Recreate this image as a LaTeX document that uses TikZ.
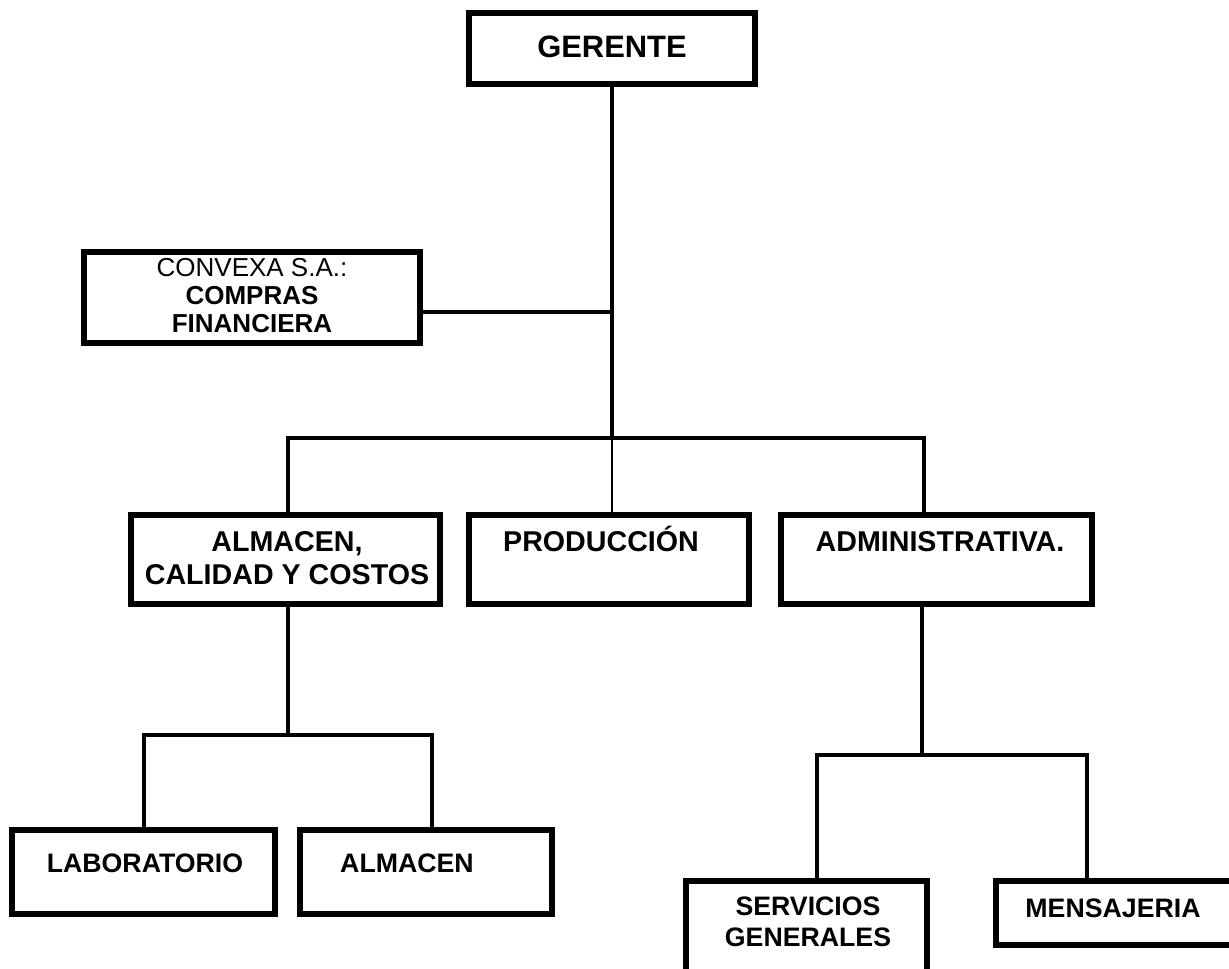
\documentclass[tikz,border=0pt]{standalone}
\usepackage{fontspec}
\setmainfont{Liberation Sans}
\usetikzlibrary{fit}
\tikzset{
  box/.style={draw=black, line width=3.8pt, inner sep=0pt, fill=white},
  conn/.style={draw=black, line width=2.3pt},
  thin/.style={draw=black, line width=0.9pt},
  txtA/.style={inner sep=0pt, font=\fontsize{16.3pt}{18.8pt}\selectfont\bfseries, align=center},
  txtB/.style={inner sep=0pt, font=\fontsize{15.2pt}{18.2pt}\selectfont\bfseries, align=center},
  txtC/.style={inner sep=0pt, font=\fontsize{14.8pt}{15.9pt}\selectfont\bfseries, align=center},
  big/.style={inner sep=0pt, font=\fontsize{17.6pt}{20pt}\selectfont\bfseries, align=center},
}
\begin{document}
\begin{tikzpicture}[x=0.02cm, y=-0.02cm]
\useasboundingbox (0,0) rectangle (1229,969);
\clip (0,0) rectangle (1229,969);
% boxes
\node[box, fit={(469,13) (755,84)}] (ger) {};
\node[box, fit={(84,252) (420,343)}] (conv) {};
\node[box, fit={(131,515) (440,604)}] (alc) {};
\node[box, fit={(469,515) (749,604)}] (prod) {};
\node[box, fit={(781,515) (1092,604)}] (adm) {};
\node[box, fit={(12,830) (275,914)}] (lab) {};
\node[box, fit={(300,830) (552,914)}] (alm) {};
\node[box, fit={(686,881) (927,1010)}] (serv) {};
\node[box, fit={(996,881) (1260,945)}] (mens) {};
% texts
\node[big, anchor=north] (tger) at (612,36) {GERENTE};
\node[txtC, anchor=north] (tconv) at (252,258) {\mdseries CONVEXA S.A.:\\COMPRAS\\FINANCIERA};
\node[txtA, anchor=north] (talc) at (287,531) {ALMACEN,\\CALIDAD Y COSTOS};
\node[txtA, anchor=base] (tprod) at (601,551) {PRODUCCIÓN};
\node[txtA, anchor=north] (tadm) at (940,531) {ADMINISTRATIVA.};
\node[txtB, anchor=north] (tlab) at (145,853) {LABORATORIO};
\node[txtB, anchor=north] (talm) at (407,853) {ALMACEN};
\node[txtB, anchor=north] (tserv) at (808,896) {SERVICIOS\\GENERALES};
\node[txtB, anchor=north] (tmens) at (1113,898) {MENSAJERIA};
% coordinates
\coordinate (trunk) at (612,438);
\coordinate (busL) at (288,438);
\coordinate (busR) at (924,438);
\coordinate (sub1) at (288,735);
\coordinate (sub1L) at (144,735);
\coordinate (sub1R) at (432,735);
\coordinate (sub2) at (922,755);
\coordinate (sub2L) at (817,755);
\coordinate (sub2R) at (1087,755);
% connectors
\draw[conn] (ger.south -| trunk) -- (trunk);
\draw[conn] (conv.east |- 0,312) -- (612,312);
\draw[conn] (alc.north -| busL) -- (busL) -- (busR) -- (adm.north -| busR);
\draw[thin] (trunk) -- (prod.north -| trunk);
\draw[conn] (alc.south -| sub1) -- (sub1);
\draw[conn] (lab.north -| sub1L) -- (sub1L) -- (sub1R) -- (alm.north -| sub1R);
\draw[conn] (adm.south -| sub2) -- (sub2);
\draw[conn] (serv.north -| sub2L) -- (sub2L) -- (sub2R) -- (mens.north -| sub2R);
\end{tikzpicture}
\end{document}
